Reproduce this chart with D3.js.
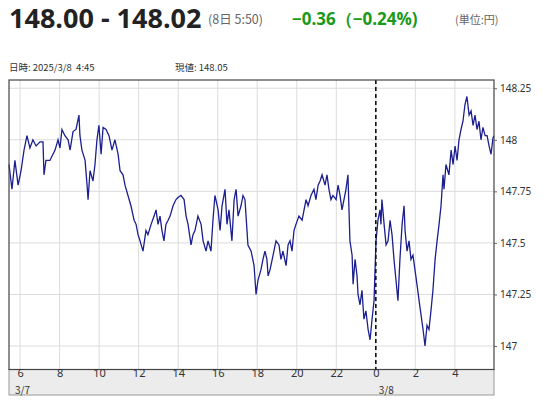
<!DOCTYPE html><html><head><meta charset="utf-8">
<script src="https://cdn.jsdelivr.net/npm/d3@7"></script>
<style>body{margin:0;background:#fff;font-family:"Noto Sans CJK JP","Noto Sans",sans-serif}</style></head><body>
<svg id="c" width="549" height="400"></svg>
<script>
const hours=[5.44,5.59,5.74,5.90,6.05,6.20,6.35,6.50,6.65,6.81,7.01,7.16,7.21,7.31,7.51,7.77,7.92,8.02,8.12,8.27,8.43,8.53,8.68,8.83,8.98,9.03,9.13,9.29,9.39,9.44,9.54,9.69,9.79,9.89,9.99,10.10,10.20,10.35,10.50,10.65,10.80,10.96,11.06,11.21,11.31,11.46,11.61,11.77,11.87,11.97,12.07,12.22,12.37,12.47,12.63,12.78,12.88,12.98,13.08,13.18,13.28,13.38,13.49,13.59,13.74,13.89,13.99,14.14,14.30,14.40,14.50,14.65,14.75,14.85,15.00,15.16,15.26,15.41,15.51,15.66,15.76,15.86,16.02,16.12,16.22,16.37,16.47,16.57,16.72,16.83,16.93,17.03,17.18,17.28,17.38,17.53,17.69,17.84,17.94,18.04,18.19,18.29,18.39,18.49,18.55,18.65,18.80,18.95,19.10,19.20,19.30,19.46,19.56,19.66,19.76,19.86,19.96,20.11,20.27,20.37,20.47,20.57,20.72,20.87,20.97,21.08,21.18,21.28,21.43,21.53,21.63,21.73,21.83,21.99,22.09,22.19,22.29,22.39,22.49,22.59,22.69,22.80,22.85,22.95,23.05,23.10,23.20,23.30,23.40,23.50,23.61,23.71,23.81,23.91,24.01,24.11,24.21,24.26,24.31,24.42,24.52,24.62,24.72,24.82,24.92,25.02,25.12,25.22,25.33,25.43,25.48,25.58,25.68,25.78,25.88,25.98,26.08,26.19,26.29,26.39,26.49,26.59,26.69,26.79,26.89,27.00,27.10,27.20,27.30,27.40,27.45,27.55,27.70,27.81,27.91,28.01,28.11,28.21,28.31,28.41,28.51,28.61,28.72,28.82,28.92,29.02,29.12,29.22,29.32,29.42,29.53,29.63,29.73,29.83,29.93,29.98];
const prices=[147.88,147.76,147.90,147.78,147.85,147.95,148.02,147.96,148.00,147.97,147.99,147.99,147.83,147.90,147.90,147.95,148.00,147.96,148.05,148.02,148.00,147.95,148.04,148.05,148.12,148.02,147.95,147.90,147.78,147.71,147.85,147.80,147.88,148.00,148.07,147.93,148.06,148.05,148.02,147.95,148.00,147.93,147.85,147.83,147.78,147.73,147.68,147.61,147.59,147.54,147.51,147.46,147.56,147.54,147.59,147.63,147.66,147.59,147.63,147.56,147.51,147.59,147.61,147.63,147.68,147.71,147.72,147.73,147.71,147.63,147.59,147.49,147.54,147.56,147.63,147.59,147.51,147.46,147.51,147.46,147.61,147.73,147.66,147.56,147.68,147.76,147.59,147.66,147.51,147.71,147.76,147.63,147.68,147.73,147.71,147.49,147.46,147.39,147.25,147.32,147.37,147.42,147.46,147.42,147.34,147.37,147.44,147.51,147.49,147.42,147.46,147.39,147.49,147.51,147.46,147.56,147.59,147.63,147.61,147.66,147.71,147.68,147.73,147.76,147.71,147.78,147.80,147.83,147.78,147.83,147.76,147.71,147.73,147.71,147.78,147.73,147.66,147.71,147.76,147.83,147.51,147.44,147.30,147.42,147.34,147.25,147.20,147.27,147.13,147.17,147.08,147.03,147.13,147.22,147.51,147.61,147.66,147.59,147.71,147.59,147.49,147.51,147.61,147.54,147.42,147.32,147.22,147.42,147.59,147.68,147.56,147.46,147.51,147.42,147.44,147.37,147.30,147.22,147.15,147.08,147.00,147.10,147.08,147.17,147.27,147.42,147.51,147.59,147.68,147.83,147.76,147.88,147.83,147.95,147.88,147.97,147.90,148.00,148.05,148.09,148.17,148.21,148.12,148.14,148.07,148.12,148.05,148.09,148.00,148.06,148.02,148.02,147.97,147.93,148.01,148.02];
const xTicks=[6,8,10,12,14,16,18,20,22,24,26,28];
const xTickLabels=["6","8","10","12","14","16","18","20","22","0","2","4"];
const yTicks=[147,147.25,147.5,147.75,148,148.25];

const svg=d3.select("#c");
const L=9,R=494,T=80,B=369.5,AB=395;
const x=d3.scaleLinear().domain([5.44,29.98]).range([L,R]);
const y=d3.scaleLinear().domain([146.886,148.29]).range([B,T]);

svg.append("text").attr("x",9).attr("y",28).text("148.00 - 148.02").attr("font-size",27).attr("font-weight","bold").attr("fill","#222").attr("font-family","'Open Sans',sans-serif");
svg.append("text").attr("x",208).attr("y",24).text("(8日 5:50)").attr("font-size",12.5).attr("fill","#666");
svg.append("text").attr("x",292).attr("y",25).text("−0.36（−0.24%)").attr("font-size",17).attr("font-weight","bold").attr("fill","#1a991a").attr("font-family","'Open Sans',sans-serif");
svg.append("text").attr("x",455).attr("y",24).text("(単位:円)").attr("font-size",11).attr("fill","#666");
svg.append("text").attr("x",9).attr("y",71).text("日時: 2025/3/8  4:45").attr("font-size",9.5).attr("fill","#333").attr("xml:space","preserve");
svg.append("text").attr("x",175).attr("y",71).text("現値: 148.05").attr("font-size",9.5).attr("fill","#333");

svg.append("rect").attr("x",L).attr("y",B).attr("width",R-L).attr("height",AB-B).attr("fill","#ececec").attr("stroke","#999");
const g=svg.append("g");
g.selectAll(".vx").data(xTicks).join("line").attr("x1",d=>x(d)).attr("x2",d=>x(d)).attr("y1",T).attr("y2",B).attr("stroke","#dcdcdc");
g.selectAll(".hy").data(yTicks).join("line").attr("x1",L).attr("x2",R).attr("y1",d=>y(d)).attr("y2",d=>y(d)).attr("stroke","#dcdcdc");
svg.append("path").datum(hours.map((t,i)=>[t,prices[i]])).attr("fill","none").attr("stroke","#1c1f8f").attr("stroke-width",1.3)
 .attr("d",d3.line().x(d=>x(d[0])).y(d=>y(d[1])));
svg.append("line").attr("x1",x(24)).attr("x2",x(24)).attr("y1",T).attr("y2",B).attr("stroke","#111").attr("stroke-width",1.6).attr("stroke-dasharray","4,3");
svg.append("rect").attr("x",L).attr("y",T).attr("width",R-L).attr("height",B-T).attr("fill","none").attr("stroke","#444").attr("stroke-width",1.2);
const ya=svg.append("g").attr("transform",`translate(${R},0)`).call(d3.axisRight(y).tickValues(yTicks).tickSize(3).tickFormat(d3.format("~g")));
ya.select(".domain").remove();
ya.selectAll("text").attr("font-size",10).attr("fill","#333").attr("font-family","'Noto Sans',sans-serif");
ya.selectAll("line").attr("stroke","#666");
const xa=svg.append("g").attr("transform",`translate(0,${B})`).call(d3.axisBottom(x).tickValues(xTicks).tickSize(0).tickFormat((d,i)=>xTickLabels[i]));
xa.select(".domain").remove();
xa.selectAll("text").attr("font-size",11).attr("fill","#333").attr("dy","0.45em").attr("font-family","'Noto Sans',sans-serif");
svg.append("text").attr("x",x(6)-5).attr("y",B+24.5).text("3/7").attr("font-size",10).attr("fill","#333");
svg.append("text").attr("x",x(24)+3).attr("y",B+24.5).text("3/8").attr("font-size",10).attr("fill","#333");
</script></body></html>
